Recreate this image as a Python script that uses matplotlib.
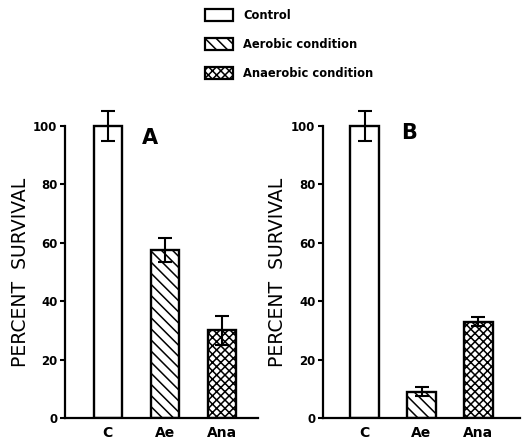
import numpy as np
import matplotlib
matplotlib.use("Agg")
import matplotlib.pyplot as plt
from matplotlib.patches import Patch

# data
groups = ["C", "Ae", "Ana"]
survival_a = [100, 57.5, 30]
err_a = [5, 4, 5]
survival_b = [100, 9, 33]
err_b = [5, 1.5, 1.5]
legend_labels = ["Control", "Aerobic condition", "Anaerobic condition"]
hatches = ["", "\\\\\\", "xxxx"]
yticks = [0, 20, 40, 60, 80, 100]

plt.rcParams['font.family'] = ['DejaVu Sans']
plt.rcParams['hatch.linewidth'] = 1.1

fig = plt.figure(figsize=(5.24, 4.43), dpi=100)

H = 443.0
W = 524.0
px_per_unit = 2.92
ytop = 110
bottom = (H - 418) / H
height = ytop * px_per_unit / H


def panel(ax, vals, errs, letter, xlim, letter_pos, label_x):
    x = np.arange(len(groups))
    for i in range(len(groups)):
        ax.bar(x[i], vals[i], width=0.5, color="white", edgecolor="black",
               linewidth=1.7, hatch=hatches[i], zorder=2)
    ax.errorbar(x, vals, yerr=errs, fmt="none", ecolor="black",
                elinewidth=1.5, capsize=4.7, capthick=1.5, zorder=3)
    ax.set_xlim(*xlim)
    ax.set_ylim(0, ytop)
    ax.spines['top'].set_visible(False)
    ax.spines['right'].set_visible(False)
    ax.spines['left'].set_bounds(0, 100)
    ax.spines['left'].set_linewidth(1.6)
    ax.spines['bottom'].set_linewidth(1.6)
    ax.set_yticks(yticks)
    ax.set_yticklabels([str(t) for t in yticks], fontsize=8.5, fontweight="bold")
    ax.tick_params(axis="y", direction="out", length=3.5, width=1.5, pad=2)
    ax.set_xticks(x)
    ax.set_xticklabels(groups, fontsize=10, fontweight="bold")
    ax.tick_params(axis="x", length=0, pad=6)
    ax.set_ylabel("PERCENT  SURVIVAL", fontsize=13.5)
    ax.yaxis.set_label_coords(label_x, 50 / ytop)
    ax.text(letter_pos[0], letter_pos[1], letter, fontsize=15,
            fontweight="bold", ha="center", va="center")


ax1 = fig.add_axes([65 / W, bottom, 193 / W, height])
panel(ax1, survival_a, err_a, "A", (-0.75, 2.63), (0.74, 96), -35 / 193)

ax2 = fig.add_axes([323 / W, bottom, 197 / W, height])
panel(ax2, survival_b, err_b, "B", (-0.73, 2.73), (0.78, 97.5), -36 / 197)

handles = [Patch(facecolor="white", edgecolor="black", linewidth=1.6, hatch=h)
           for h in hatches]
fig.legend(handles, legend_labels, loc="upper left",
           bbox_to_anchor=(205 / W, 1 - 9 / H), frameon=False,
           prop={"size": 8.3, "weight": "bold"}, handlelength=2.43,
           handleheight=1.13, labelspacing=1.39, handletextpad=0.87,
           borderpad=0, borderaxespad=0)

fig.savefig("out.png", dpi=100)
